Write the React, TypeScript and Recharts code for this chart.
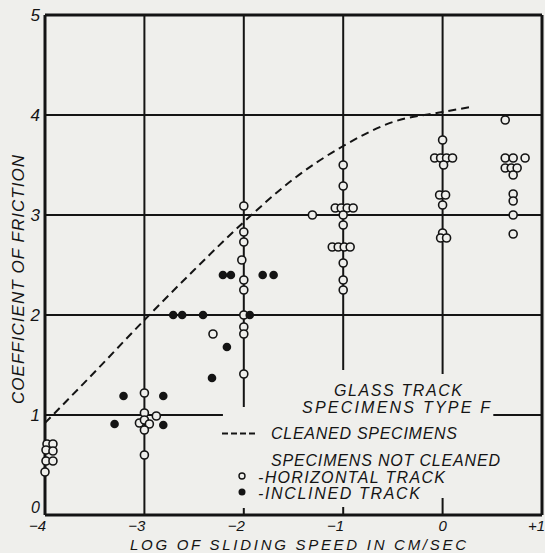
import React from 'react';
import { ComposedChart, Scatter, Line, XAxis, YAxis, ReferenceLine } from 'recharts';

// log of sliding speed (x) vs coefficient of friction (y)
const horizontalTrack: [number, number][] = [
  // near -4
  [-3.98, 0.71], [-3.92, 0.71], [-3.99, 0.65], [-3.92, 0.64], [-3.99, 0.54], [-3.92, 0.54], [-4.0, 0.43],
  // near -3
  [-3.0, 1.22], [-3.0, 1.02], [-3.05, 0.92], [-3.0, 0.95], [-2.95, 0.91], [-3.0, 0.85], [-3.0, 0.6], [-2.88, 0.99],
  // near -2
  [-2.31, 1.81],
  [-2.0, 3.09], [-2.0, 2.83], [-2.0, 2.73], [-2.02, 2.55], [-2.0, 2.35], [-2.0, 2.25], [-2.0, 2.0],
  [-2.0, 1.88], [-2.0, 1.81], [-2.0, 1.41],
  // near -1
  [-1.31, 3.0],
  [-1.0, 3.5], [-1.0, 3.29], [-1.08, 3.07], [-1.02, 3.07], [-0.96, 3.07], [-0.9, 3.07], [-1.0, 3.0],
  [-1.0, 2.9], [-1.11, 2.68], [-1.05, 2.68], [-0.99, 2.68], [-0.93, 2.68], [-1.0, 2.52], [-1.0, 2.35], [-1.0, 2.25],
  // near 0
  [0.0, 3.75], [-0.08, 3.57], [-0.02, 3.57], [0.04, 3.57], [0.1, 3.57], [0.01, 3.5], [-0.03, 3.2], [0.03, 3.2],
  [0.0, 3.1], [0.0, 2.82], [-0.02, 2.77], [0.04, 2.77],
  // near +0.7
  [0.63, 3.95], [0.63, 3.57], [0.71, 3.57], [0.83, 3.57], [0.63, 3.47], [0.69, 3.47], [0.75, 3.47],
  [0.71, 3.4], [0.71, 3.21], [0.71, 3.14], [0.71, 3.0], [0.71, 2.81],
];

const inclinedTrack: [number, number][] = [
  [-3.3, 0.91], [-3.21, 1.19], [-2.81, 1.19], [-2.81, 0.9],
  [-2.71, 2.0], [-2.62, 2.0], [-2.41, 2.0], [-1.94, 2.0],
  [-2.32, 1.37], [-2.17, 1.68], [-2.21, 2.4], [-2.13, 2.4], [-1.81, 2.4], [-1.7, 2.4],
];

const cleanedX = [-4, -3.5, -3, -2.5, -2, -1.5, -1, -0.5, 0, 0.28];
const cleanedY = [0.92, 1.43, 1.95, 2.45, 2.93, 3.36, 3.69, 3.93, 4.03, 4.08];

const xTicks = [-4, -3, -2, -1, 0, 1];
const xTickLabels = ['\u22124', '\u22123', '\u22122', '\u22121', '0', '+1'];
const yTicks = [0, 1, 2, 3, 4, 5];

// grid segments [x1, y1, x2, y2] (the legend block interrupts some lines)
const gridSegments: [number, number, number, number][] = [
  [-4, 1, -2.21, 1], [0.51, 1, 1, 1],
  [-4, 2, 1, 2], [-4, 3, 1, 3], [-4, 4, 1, 4],
  [-3, 0, -3, 5], [-2, 1.08, -2, 5], [-1, 1.45, -1, 5], [0, 1.41, 0, 5],
  [-2, 0, -2, 0.07], [-1, 0, -1, 0.08], [0, 0, 0, 0.17],
];
const frame: [number, number, number, number][] = [
  [-4, 0, 1, 0], [-4, 5, 1, 5], [-4, 0, -4, 5], [1, 0, 1, 5],
];

const BG = '#efefec';
const INK = '#141414';
const FONT = '"Liberation Sans", Arial, sans-serif';

const toPts = (arr: [number, number][]) => arr.map(([x, y]) => ({ x, y }));
const curveData = cleanedX.map((x, i) => ({ x, y: cleanedY[i] }));

const OpenDot = (p: any) => (
  <circle cx={p.cx} cy={p.cy} r={4} fill={BG} stroke={INK} strokeWidth={1.6} />
);
const FilledDot = (p: any) => <circle cx={p.cx} cy={p.cy} r={4.3} fill={INK} />;

const XTick = (p: any) => {
  const v = p.payload.value;
  const i = xTicks.indexOf(v);
  const anchor = v === 0 ? 'middle' : 'end';
  const dx = v === 0 ? 0 : v > 0 ? 3 : 1;
  return (
    <text x={p.x + dx} y={531} textAnchor={anchor} fontFamily={FONT} fontStyle="italic" fontSize={15} fill={INK}>
      {xTickLabels[i]}
    </text>
  );
};

const YTick = (p: any) => {
  const v = p.payload.value;
  // the bottom label sits a little higher so it clears the -4 below it
  const dy = v === 0 ? -2 : 6;
  return (
    <text x={40} y={p.y + dy} textAnchor="end" fontFamily={FONT} fontStyle="italic" fontSize={v === 0 ? 16 : 17} fill={INK}>
      {v}
    </text>
  );
};

const txt = { fontFamily: FONT, fontStyle: 'italic' as const, fill: INK, lengthAdjust: 'spacing' as const };

export default function App() {
  return (
    <div style={{ position: 'absolute', left: 0, top: 0, width: 545, height: 553, background: BG }}>
      <ComposedChart width={545} height={553} margin={{ top: 15, right: 3, bottom: 0, left: 0 }}>
        <XAxis
          type="number"
          dataKey="x"
          domain={[-4, 1]}
          ticks={xTicks}
          height={38}
          axisLine={false}
          tickLine={false}
          tick={<XTick />}
          interval={0}
        />
        <YAxis
          type="number"
          dataKey="y"
          domain={[0, 5]}
          ticks={yTicks}
          width={45}
          axisLine={false}
          tickLine={false}
          tick={<YTick />}
          interval={0}
        />
        {gridSegments.map(([x1, y1, x2, y2], i) => (
          <ReferenceLine key={'g' + i} segment={[{ x: x1, y: y1 }, { x: x2, y: y2 }]} stroke={INK} strokeWidth={2} />
        ))}
        {frame.map(([x1, y1, x2, y2], i) => (
          <ReferenceLine key={'f' + i} segment={[{ x: x1, y: y1 }, { x: x2, y: y2 }]} stroke={INK} strokeWidth={3} />
        ))}
        <Line
          data={curveData}
          dataKey="y"
          type="monotone"
          stroke={INK}
          strokeWidth={2}
          strokeDasharray="8 5"
          dot={false}
          isAnimationActive={false}
        />
        <Scatter data={toPts(horizontalTrack)} dataKey="y" shape={OpenDot} isAnimationActive={false} />
        <Scatter data={toPts(inclinedTrack)} dataKey="y" shape={FilledDot} isAnimationActive={false} />
      </ComposedChart>

      <svg width={545} height={553} style={{ position: 'absolute', left: 0, top: 0, pointerEvents: 'none' }}>
        <text {...txt} x={334} y={396} fontSize={16} textLength={128}>GLASS  TRACK</text>
        <text {...txt} x={302} y={413} fontSize={16} textLength={188}>SPECIMENS  TYPE  F</text>
        <line x1={222} y1={433.5} x2={256} y2={433.5} stroke={INK} strokeWidth={1.8} strokeDasharray="6 3" />
        <text {...txt} x={271} y={439} fontSize={16} textLength={186}>CLEANED  SPECIMENS</text>
        <text {...txt} x={271} y={466} fontSize={16} textLength={229}>SPECIMENS  NOT  CLEANED</text>
        <circle cx={242} cy={476} r={3} fill={BG} stroke={INK} strokeWidth={1.4} />
        <text {...txt} x={258} y={483} fontSize={16} textLength={187}>-HORIZONTAL  TRACK</text>
        <circle cx={242} cy={492} r={3.5} fill={INK} />
        <text {...txt} x={258} y={499} fontSize={16} textLength={162}>-INCLINED  TRACK</text>
        <text {...txt} x={130} y={550} fontSize={15} textLength={336}>LOG  OF  SLIDING  SPEED  IN  CM/SEC</text>
        <text {...txt} x={0} y={0} fontSize={17} textLength={249} transform="translate(24,404) rotate(-90)">
          COEFFICIENT  OF  FRICTION
        </text>
      </svg>
    </div>
  );
}
